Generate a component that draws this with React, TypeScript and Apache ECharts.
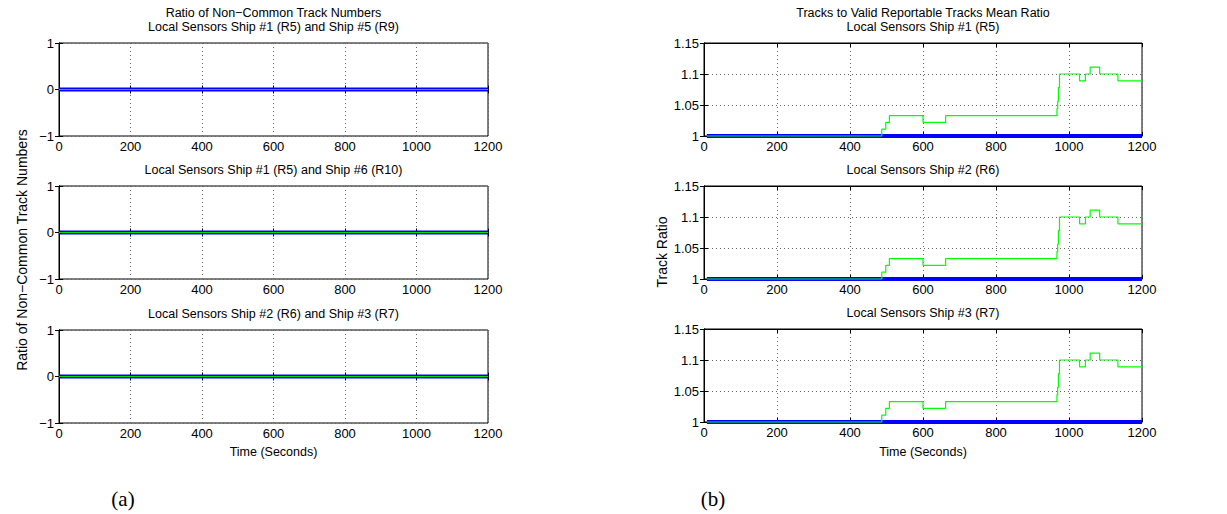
import React, { useEffect, useRef } from "react";
import * as echarts from "echarts";

// ---------- data ----------
const xTicks = [0, 200, 400, 600, 800, 1000, 1200];

// left panel (a): ratio of non-common track numbers (all zero)
const leftTitles = [
  "Local Sensors Ship #1 (R5) and Ship #5 (R9)",
  "Local Sensors Ship #1 (R5) and Ship #6 (R10)",
  "Local Sensors Ship #2 (R6) and Ship #3 (R7)",
];
const leftTimes = [0, 1200];
const leftBlue = [0, 0];
const leftGreen = [0, 0];

// right panel (b): tracks to valid reportable tracks mean ratio
const rightTitles = [
  "Local Sensors Ship #1 (R5)",
  "Local Sensors Ship #2 (R6)",
  "Local Sensors Ship #3 (R7)",
];
const rightBlueTimes = [8, 1200];
const rightBlue = [1, 1];
const rightGreenTimes = [8, 487, 498, 508, 600, 662, 967, 969, 971, 974, 1029, 1045, 1058, 1084, 1134, 1200];
const rightGreen = [1.0, 1.011, 1.022, 1.033, 1.022, 1.033, 1.044, 1.056, 1.078, 1.1, 1.089, 1.1, 1.111, 1.1, 1.089, 1.089];

// ---------- layout ----------
const L = { left: 59, width: 429, tops: [43, 186, 330], height: 93 };
const R = { left: 704, width: 438, tops: [43, 186, 329], height: 93 };
const FONT = "Liberation Sans, Arial, Helvetica, sans-serif";

const zip = (xs: number[], ys: number[]) => xs.map((x, i) => [x, ys[i]]);

export default function App() {
  const ref = useRef<HTMLDivElement>(null);
  useEffect(() => {
    if (!ref.current) return;
    const chart = echarts.init(ref.current, undefined, { renderer: "svg" });

    const grids: any[] = [];
    const xAxes: any[] = [];
    const yAxes: any[] = [];
    const series: any[] = [];
    const graphics: any[] = [];

    const split = { show: true, lineStyle: { color: "#666", type: [1, 3], width: 1 } };
    const tick = { show: true, inside: true, length: 4, lineStyle: { color: "#000" } };
    const axLine = { show: true, lineStyle: { color: "#000", width: 1 } };

    const addPanel = (
      left: number,
      width: number,
      top: number,
      height: number,
      yMin: number,
      yMax: number,
      yInt: number,
      yFmt: (v: number) => string
    ) => {
      const g = grids.length;
      grids.push({ left, top, width, height, show: true, borderColor: "#000", borderWidth: 1, containLabel: false });
      const xi = xAxes.length;
      xAxes.push({
        type: "value", gridIndex: g, min: xTicks[0], max: xTicks[xTicks.length - 1], interval: 200, position: "bottom",
        axisLine: axLine, axisTick: tick, splitLine: split,
        axisLabel: { color: "#000", fontFamily: FONT, fontSize: 13, margin: 4, formatter: (v: number) => String(v) },
      });
      xAxes.push({
        type: "value", gridIndex: g, min: xTicks[0], max: xTicks[xTicks.length - 1], interval: 200, position: "top",
        axisLine: axLine, axisTick: tick, splitLine: { show: false }, axisLabel: { show: false },
      });
      const yi = yAxes.length;
      yAxes.push({
        type: "value", gridIndex: g, min: yMin, max: yMax, interval: yInt, position: "left",
        axisLine: axLine, axisTick: tick, splitLine: split,
        axisLabel: { color: "#000", fontFamily: FONT, fontSize: 13, margin: 5, formatter: yFmt },
      });
      yAxes.push({
        type: "value", gridIndex: g, min: yMin, max: yMax, interval: yInt, position: "right",
        axisLine: axLine, axisTick: tick, splitLine: { show: false }, axisLabel: { show: false },
      });
      return { xi, yi };
    };

    const leftFmt = (v: number) => (v < 0 ? "\u2212" + Math.abs(v) : String(v));
    const rightFmt = (v: number) => String(parseFloat(v.toFixed(2)));
    const txt = (x: number, y: number, text: string, size: number, extra: any = {}) => ({
      type: "text", x, y, ...extra,
      style: { text, font: `${size}px ${FONT}`, textAlign: "center", textVerticalAlign: "middle", fill: "#000" },
    });

    L.tops.forEach((top, i) => {
      const { xi, yi } = addPanel(L.left, L.width, top, L.height, -1, 1, 1, leftFmt);
      series.push({
        type: "line", xAxisIndex: xi, yAxisIndex: yi, data: zip(leftTimes, leftBlue),
        showSymbol: false, lineStyle: { color: "#0000ff", width: 4 }, z: 3,
      });
      series.push({
        type: "line", xAxisIndex: xi, yAxisIndex: yi, data: zip(leftTimes, leftGreen),
        showSymbol: false, lineStyle: { color: "#00dd00", width: 1.2 }, z: 4,
      });
      graphics.push(txt(L.left + L.width / 2, top - 16.5, leftTitles[i], 12.5));
    });

    R.tops.forEach((top, i) => {
      const { xi, yi } = addPanel(R.left, R.width, top, R.height, 1, 1.15, 0.05, rightFmt);
      series.push({
        type: "line", xAxisIndex: xi, yAxisIndex: yi, data: zip(rightBlueTimes, rightBlue),
        showSymbol: false, lineStyle: { color: "#0000ff", width: 4 }, z: 3, clip: false,
      });
      series.push({
        type: "line", xAxisIndex: xi, yAxisIndex: yi, data: zip(rightGreenTimes, rightGreen),
        step: "end", showSymbol: false, lineStyle: { color: "#00ff00", width: 1.2 }, z: 4, clip: false,
      });
      graphics.push(txt(R.left + R.width / 2, top - 16.5, rightTitles[i], 12.5));
    });

    graphics.push(txt(L.left + L.width / 2, 12.5, "Ratio of Non\u2212Common Track Numbers", 12.5));
    graphics.push(txt(R.left + R.width / 2, 12.5, "Tracks to Valid Reportable Tracks Mean Ratio", 12.5));
    graphics.push(txt(22, 250, "Ratio of Non\u2212Common Track Numbers", 14, { rotation: Math.PI / 2 }));
    graphics.push(txt(662, 252, "Track Ratio", 14, { rotation: Math.PI / 2 }));
    graphics.push(txt(L.left + L.width / 2, 452, "Time (Seconds)", 12.5));
    graphics.push(txt(R.left + R.width / 2, 452, "Time (Seconds)", 12.5));
    graphics.push({
      type: "text", x: 123, y: 499,
      style: { text: "(a)", font: `21px "Liberation Serif", "DejaVu Serif", serif`, textAlign: "center", textVerticalAlign: "middle", fill: "#000" },
    });
    graphics.push({
      type: "text", x: 713, y: 499,
      style: { text: "(b)", font: `21px "Liberation Serif", "DejaVu Serif", serif`, textAlign: "center", textVerticalAlign: "middle", fill: "#000" },
    });

    chart.setOption({
      animation: false,
      backgroundColor: "#fff",
      grid: grids,
      xAxis: xAxes,
      yAxis: yAxes,
      series,
      graphic: graphics,
    });
    return () => chart.dispose();
  }, []);

  return <div ref={ref} style={{ position: "absolute", left: 0, top: 0, width: 1227, height: 514 }} />;
}
